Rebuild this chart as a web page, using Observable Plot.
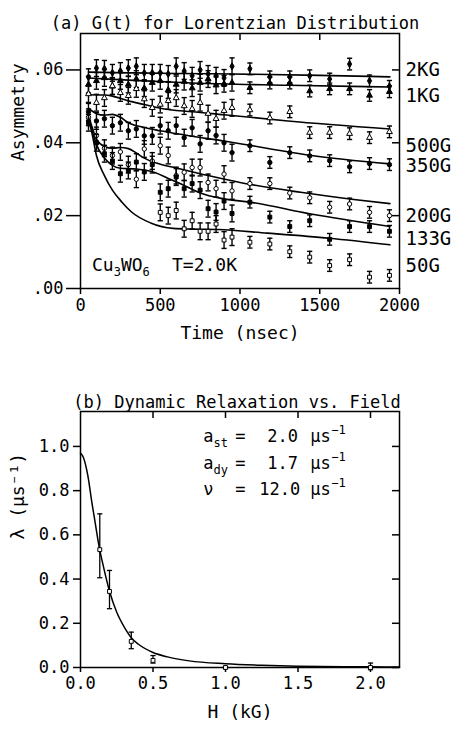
<!DOCTYPE html>
<html><head><meta charset="utf-8">
<script src="https://cdn.jsdelivr.net/npm/d3@7"></script>
<script src="https://cdn.jsdelivr.net/npm/@observablehq/plot@0.6"></script>
<style>
body{margin:0;background:#fff;}
#chart svg{display:block;}
</style></head><body><div id="chart"></div>
<script>
// ---------- Panel (a) data ----------
const tEarly = [50,100,150,200,250,300,350,400,450,500,550,600,650,700,750,800,850,900,950];
const tLate = [1062,1187,1312,1437,1562,1687,1812,1937];
const fields = ["2KG","1KG","500G","350G","200G","133G","50G"];
const labelY = [0.0600,0.0529,0.0392,0.0337,0.0200,0.0137,0.0063];

const A2KG = [0.0580,0.0605,0.0603,0.0592,0.0597,0.0605,0.0610,0.0592,0.0592,0.0592,0.0589,0.0610,0.0597,0.0584,0.0600,0.0589,0.0584,0.0578,0.0610, 0.0603,0.0581,0.0581,0.0584,0.0575,0.0616,0.0570,0.0555];
const A1KG = [0.0560,0.0570,0.0578,0.0555,0.0570,0.0560,0.0575,0.0550,0.0565,0.0570,0.0545,0.0560,0.0568,0.0550,0.0565,0.0575,0.0558,0.0562,0.0565, 0.0551,0.0564,0.0564,0.0542,0.0548,0.0548,0.0530,0.0540];
const A500G = [0.0534,0.0510,0.0523,0.0556,0.0537,0.0529,0.0548,0.0520,0.0496,0.0505,0.0515,0.0523,0.0501,0.0493,0.0510,0.0480,0.0466,0.0488,0.0496, 0.0490,0.0468,0.0485,0.0428,0.0428,0.0425,0.0414,0.0430];
const A350G = [0.0485,0.0460,0.0466,0.0447,0.0455,0.0433,0.0438,0.0419,0.0419,0.0447,0.0433,0.0447,0.0414,0.0441,0.0397,0.0433,0.0420,0.0400,0.0373, 0.0392,0.0346,0.0373,0.0364,0.0351,0.0334,0.0343,0.0340];
const A200G = [0.0470,0.0420,0.0385,0.0365,0.0375,0.0340,0.0300,0.0383,0.0350,0.0392,0.0365,0.0310,0.0319,0.0332,0.0332,0.0291,0.0274,0.0314,0.0268, 0.0288,0.0288,0.0262,0.0249,0.0223,0.0232,0.0209,0.0200];
const A133G = [0.0455,0.0400,0.0370,0.0350,0.0315,0.0324,0.0347,0.0320,0.0340,0.0264,0.0274,0.0306,0.0274,0.0288,0.0270,0.0219,0.0210,0.0240,0.0206, 0.0237,0.0196,0.0170,0.0186,0.0135,0.0170,0.0170,0.0157];
const t50G = [500,550,600,650,700,750,800,850,900,950,1062,1187,1312,1437,1562,1687,1812,1937];
const A50G = [0.0209,0.0200,0.0214,0.0164,0.0186,0.0157,0.0157,0.0177,0.0133,0.0141, 0.0127,0.0122,0.0101,0.0086,0.0063,0.0079,0.0031,0.0036];
const errEarly = 0.0023, errLate = 0.0016;

// fitted curves [t, A]
const fit2KG = [[50,0.0594],[300,0.0592],[600,0.0590],[950,0.0589],[1500,0.0585],[1940,0.0581]];
const fit1KG = [[50,0.0578],[300,0.0572],[700,0.0564],[1300,0.0558],[1940,0.0553]];
const fit500G = [[50,0.0532],[150,0.0531],[200,0.0528],[300,0.0515],[400,0.0505],[500,0.0495],[700,0.0485],[900,0.0477],[1300,0.0460],[1940,0.0438]];
const fit350G = [[50,0.0495],[100,0.0480],[150,0.0476],[200,0.0478],[250,0.0470],[300,0.0455],[400,0.0442],[500,0.0433],[700,0.0418],[900,0.0405],[1062,0.0393],[1437,0.0366],[1940,0.0342]];
const fit200G = [[50,0.0475],[75,0.0440],[100,0.0410],[150,0.0390],[200,0.0385],[250,0.0387],[300,0.0384],[350,0.0372],[400,0.0358],[470,0.0345],[600,0.0331],[800,0.0310],[1000,0.0291],[1380,0.0264],[1700,0.0245],[1940,0.0233]];
const fit133G = [[50,0.0470],[75,0.0430],[100,0.0395],[150,0.0358],[200,0.0338],[250,0.0330],[350,0.0328],[470,0.0318],[550,0.0302],[650,0.0283],[750,0.0262],[900,0.0246],[1062,0.0237],[1437,0.0205],[1940,0.0170]];
const fit50G = [[50,0.0465],[75,0.0420],[100,0.0365],[150,0.0310],[200,0.0270],[260,0.0237],[320,0.0210],[440,0.0180],[580,0.0165],[700,0.0163],[860,0.0162],[1170,0.0152],[1560,0.0138],[1940,0.0120]];

const xTicksA = [0,500,1000,1500,2000];
const yTicksA = [0,0.02,0.04,0.06];

// ---------- Panel (b) data ----------
const H = [0.133,0.2,0.35,0.5,1.0,2.0];
const lam = [0.533,0.344,0.118,0.032,0.0,0.0];
const lamLo = [0.406,0.266,0.085,0.020,-0.004,-0.010];
const lamHi = [0.695,0.439,0.160,0.054,0.004,0.020];
const fitB = [[0,0.97],[0.02,0.95],[0.05,0.87],[0.08,0.74],[0.1,0.66],[0.13,0.54],[0.15,0.48],[0.2,0.345],[0.25,0.25],[0.3,0.185],[0.35,0.135],[0.4,0.105],[0.5,0.068],[0.6,0.048],[0.75,0.03],[1.0,0.017],[1.25,0.01],[1.5,0.006],[2.0,0.003],[2.2,0.002]];
const xTicksB = [0,0.5,1,1.5,2];
const yTicksB = [0,0.2,0.4,0.6,0.8,1.0];

// ---------- build ----------
const FONT = "DejaVu Sans Mono";
const capSymbol = {draw(ctx, size){ const w = Math.sqrt(size/Math.PI); ctx.moveTo(-w,0); ctx.lineTo(w,0); }};

const seriesDefs = [
  {name:"2KG", ts: tEarly.concat(tLate), vals: A2KG, fit: fit2KG, symbol:"diamond", filled:true},
  {name:"1KG", ts: tEarly.concat(tLate), vals: A1KG, fit: fit1KG, symbol:"triangle", filled:true},
  {name:"500G", ts: tEarly.concat(tLate), vals: A500G, fit: fit500G, symbol:"triangle", filled:false},
  {name:"350G", ts: tEarly.concat(tLate), vals: A350G, fit: fit350G, symbol:"circle", filled:true},
  {name:"200G", ts: tEarly.concat(tLate), vals: A200G, fit: fit200G, symbol:"circle", filled:false},
  {name:"133G", ts: tEarly.concat(tLate), vals: A133G, fit: fit133G, symbol:"square", filled:true},
  {name:"50G", ts: t50G, vals: A50G, fit: fit50G, symbol:"square", filled:false}
];

const marksA = [];
for (const s of seriesDefs) {
  const rows = s.vals.map((v,i) => ({t: s.ts[i], A: v, e: s.ts[i] > 1000 ? errLate : errEarly}));
  marksA.push(Plot.line(s.fit, {x: d=>d[0], y: d=>d[1], stroke:"black", strokeWidth:1.6, curve:"monotone-x"}));
  marksA.push(Plot.ruleX(rows, {x:"t", y1: d=>d.A-d.e, y2: d=>d.A+d.e, stroke:"black", strokeWidth:1.4}));
  marksA.push(Plot.dot(rows, {x:"t", y: d=>d.A-d.e, symbol: capSymbol, r:2.6, stroke:"black", fill:"none", strokeWidth:1.4}));
  marksA.push(Plot.dot(rows, {x:"t", y: d=>d.A+d.e, symbol: capSymbol, r:2.6, stroke:"black", fill:"none", strokeWidth:1.4}));
  marksA.push(Plot.dot(rows, {x:"t", y:"A", symbol: s.symbol, r:2.2, stroke:"black", strokeWidth:1, fill: s.filled ? "black" : "white"}));
}
const labelRows = fields.map((f,i)=>({f, y: labelY[i]}));

// frame sizes (pixels) used for inward tick insets
const frameA = {w: 456 - 80 - 57, h: 370 - 33 - 82};
const frameB = {w: 456 - 80 - 57, h: 365 - 41 - 68};
const TIN = 7;

const plotA = Plot.plot({
  width: 456, height: 370,
  marginLeft: 80, marginRight: 57, marginTop: 33, marginBottom: 82,
  style: {fontFamily: FONT, fontSize: "17px", color: "black", background: "white", overflow: "visible"},
  x: {domain: [0,2000]},
  y: {domain: [0,0.07]},
  marks: [
    Plot.frame({stroke:"black", strokeWidth:1.5}),
    Plot.axisX({anchor:"bottom", ticks: xTicksA, tickSize:6, tickPadding:4, label:null, strokeWidth:1.5, fontSize:17, tickFormat: d3.format("d")}),
    Plot.ruleX(xTicksA.slice(1,4), {x: d=>d, insetBottom: frameA.h - TIN, stroke:"black", strokeWidth:1.5}),
    Plot.axisY({anchor:"left", ticks: yTicksA, tickSize:14, tickPadding:3, label:null, strokeWidth:1.5, fontSize:17,
      tickFormat: d => d3.format(".2f")(d).replace(/^0/, "")}),
    Plot.ruleY(yTicksA.slice(1), {y: d=>d, insetLeft: frameA.w - TIN, stroke:"black", strokeWidth:1.5}),
    ...marksA,
    Plot.text(labelRows, {x: () => 2000, y: "y", text: "f", dx: 6, textAnchor: "start", fontSize: 19}),
    Plot.text(["(a) G(t) for Lorentzian Distribution"], {frameAnchor: "top", dy: -17, dx: -5, fontSize: 17}),
    Plot.text(["Time (nsec)"], {frameAnchor: "bottom", dy: 50, fontSize: 18}),
    Plot.text(["Asymmetry"], {frameAnchor: "left", rotate: -90, dx: -62, fontSize: 18})
  ]
});

const bRows = H.map((h,i)=>({h, l: lam[i], lo: lamLo[i], hi: lamHi[i]}));
const plotB = Plot.plot({
  width: 456, height: 365,
  marginLeft: 80, marginRight: 57, marginTop: 41, marginBottom: 68,
  style: {fontFamily: FONT, fontSize: "17px", color: "black", background: "white", overflow: "visible"},
  x: {domain: [0,2.2]},
  y: {domain: [0,1.158]},
  marks: [
    Plot.frame({stroke:"black", strokeWidth:1.5}),
    Plot.axisX({anchor:"bottom", ticks: xTicksB, tickSize:5, tickPadding:4, label:null, strokeWidth:1.5, fontSize:17, tickFormat: d3.format(".1f")}),
    Plot.ruleX(xTicksB.slice(1), {x: d=>d, insetBottom: frameB.h - TIN, stroke:"black", strokeWidth:1.5}),
    Plot.axisY({anchor:"left", ticks: yTicksB, tickSize:7, tickPadding:4, label:null, strokeWidth:1.5, fontSize:17, tickFormat: d3.format(".1f")}),
    Plot.ruleY(yTicksB, {y: d=>d, insetLeft: frameB.w - TIN, stroke:"black", strokeWidth:1.5}),
    Plot.line(fitB, {x: d=>d[0], y: d=>d[1], stroke:"black", strokeWidth:1.5, curve:"monotone-x"}),
    Plot.ruleX(bRows, {x:"h", y1:"lo", y2:"hi", stroke:"black", strokeWidth:1.3}),
    Plot.dot(bRows, {x:"h", y:"lo", symbol: capSymbol, r:2.6, stroke:"black", fill:"none", strokeWidth:1.3}),
    Plot.dot(bRows, {x:"h", y:"hi", symbol: capSymbol, r:2.6, stroke:"black", fill:"none", strokeWidth:1.3}),
    Plot.dot(bRows, {x:"h", y:"l", symbol:"square", r:2.2, stroke:"black", fill:"white", strokeWidth:1}),
    Plot.text(["(b) Dynamic Relaxation vs. Field"], {frameAnchor: "top", dy: -16, dx: -3, fontSize: 17}),
    Plot.text(["H (kG)"], {frameAnchor: "bottom", dy: 50, fontSize: 18}),
    Plot.text(["λ (μs⁻¹)"], {frameAnchor: "left", rotate: -90, dx: -62, fontSize: 18})
  ]
});

// annotations with sub/superscripts placed through the scales
function addText(svg, x, y, parts, size) {
  const t = d3.select(svg).append("text").attr("x", x).attr("y", y)
    .attr("text-anchor", "start")
    .attr("font-family", FONT).attr("font-size", size).attr("fill", "black").attr("dominant-baseline","middle");
  for (const p of parts) {
    const ts = t.append("tspan").text(p.s);
    if (p.x != null) ts.attr("x", x + p.x);
    if (p.dy != null) ts.attr("dy", p.dy);
    if (p.size) ts.attr("font-size", p.size);
  }
}
{
  const x0 = plotA.scale("x").apply(75), y0 = plotA.scale("y").apply(0.0060);
  addText(plotA, x0, y0, [
    {s:"Cu"}, {s:"3", dy:6, size:12}, {s:"WO", dy:-6}, {s:"6", dy:6, size:12}, {s:"T=2.0K", x: 80, dy:-6}
  ], 18);
}
{
  const X = v => plotB.scale("x").apply(v), Y = v => plotB.scale("y").apply(v);
  const x0 = X(0.85);
  const lines = [
    {y: 1.040, parts: [{s:"a"}, {s:"st", dy:6, size:12}, {s:"=", x:32, dy:-6}, {s:"2.0", x:64}, {s:"μs", x:107}, {s:"−1", x:128, dy:-7, size:12}]},
    {y: 0.920, parts: [{s:"a"}, {s:"dy", dy:6, size:12}, {s:"=", x:32, dy:-6}, {s:"1.7", x:64}, {s:"μs", x:107}, {s:"−1", x:128, dy:-7, size:12}]},
    {y: 0.800, parts: [{s:"ν"}, {s:"=", x:32}, {s:"12.0", x:56}, {s:"μs", x:107}, {s:"−1", x:128, dy:-7, size:12}]}
  ];
  for (const l of lines) addText(plotB, x0, Y(l.y), l.parts, 17);
}

document.getElementById("chart").append(plotA, plotB);
</script>
</body></html>
